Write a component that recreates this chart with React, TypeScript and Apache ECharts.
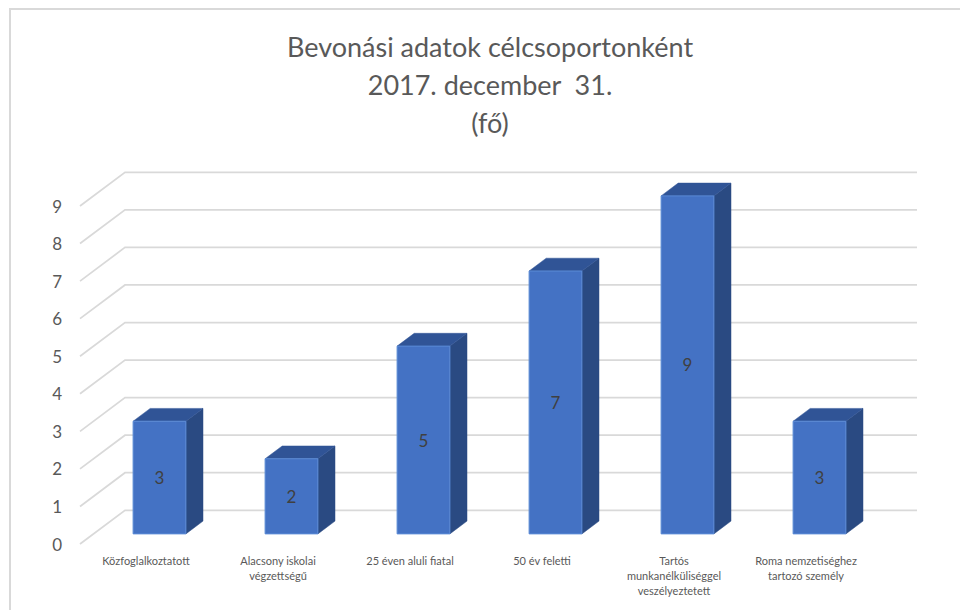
import React, { useEffect, useRef } from "react";
import * as echarts from "echarts";

const titleLines = ["Bevonási adatok célcsoportonként", "2017. december  31.", "(fő)"];
const categories = [
  "Közfoglalkoztatott",
  "Alacsony iskolai\nvégzettségű",
  "25 éven aluli fiatal",
  "50 év feletti",
  "Tartós\nmunkanélküliséggel\nveszélyeztetett",
  "Roma nemzetiséghez\ntartozó személy",
];
const values = [3, 2, 5, 7, 9, 3];
const yTicks = [0, 1, 2, 3, 4, 5, 6, 7, 8, 9];

const FONT = "Lato, 'Open Sans', sans-serif";
const DEPTH_X = 45;
const DEPTH_Y = -33.7;
const F1 = 0.3;
const F2 = 0.68;

export default function App() {
  const ref = useRef<HTMLDivElement>(null);
  useEffect(() => {
    if (!ref.current) return;
    const chart = echarts.init(ref.current, null, { renderer: "svg" });
    const nCat = categories.length;

    const option: any = {
      animation: false,
      backgroundColor: "#ffffff",
      title: {
        text: titleLines.join("\n"),
        left: 485,
        top: 22,
        textAlign: "center",
        textStyle: {
          fontFamily: FONT,
          fontSize: 27,
          lineHeight: 38,
          fontWeight: "normal",
          color: "#595959",
        },
      },
      graphic: [
        {
          type: "polyline",
          shape: { points: [[10, 610], [10, 9], [960, 9]] },
          style: { stroke: "#d9d9d9", lineWidth: 2, fill: null },
          silent: true,
        },
      ],
      grid: { left: 80, right: 88, top: 206, bottom: 66 },
      xAxis: {
        type: "category",
        data: categories,
        boundaryGap: true,
        axisLine: { show: false },
        axisTick: { show: false },
        splitLine: { show: false },
        axisLabel: {
          margin: 9,
          fontFamily: FONT,
          fontSize: 11,
          lineHeight: 15,
          color: "#595959",
          interval: 0,
        },
      },
      yAxis: {
        type: "value",
        min: 0,
        max: 9,
        interval: 1,
        axisLine: { show: false },
        axisTick: { show: false },
        splitLine: { show: false },
        axisLabel: {
          margin: 18,
          fontFamily: FONT,
          fontSize: 17,
          color: "#595959",
        },
      },
      series: [
        {
          type: "custom",
          name: "grid",
          z: 1,
          silent: true,
          data: yTicks.map((v) => [0, v]),
          encode: { x: 0, y: 1 },
          renderItem: (params: any, api: any) => {
            const v = api.value(1);
            const p = api.coord([0, v]);
            const bw = api.size([1, 0])[0];
            const left = p[0] - bw / 2;
            return {
              type: "polyline",
              shape: {
                points: [
                  [left, p[1]],
                  [left + DEPTH_X, p[1] + DEPTH_Y],
                  [left + DEPTH_X + nCat * bw, p[1] + DEPTH_Y],
                ],
              },
              style: { stroke: "#d9d9d9", lineWidth: 1.75, fill: null },
            };
          },
        },
        {
          type: "custom",
          name: "bars",
          z: 5,
          data: values.map((v, i) => [i, v]),
          encode: { x: 0, y: 1 },
          renderItem: (params: any, api: any) => {
            const i = api.value(0);
            const v = api.value(1);
            const base = api.coord([i, 0]);
            const top = api.coord([i, v]);
            const bw = api.size([1, 0])[0];
            const barW = bw * 0.4;
            const x0 = base[0] - barW / 2 + F1 * DEPTH_X;
            const yb = base[1] + F1 * DEPTH_Y;
            const yt = top[1] + F1 * DEPTH_Y;
            const ddx = (F2 - F1) * DEPTH_X;
            const ddy = (F2 - F1) * DEPTH_Y;
            return {
              type: "group",
              children: [
                {
                  type: "polygon",
                  shape: {
                    points: [
                      [x0 + barW, yt],
                      [x0 + barW, yb],
                      [x0 + barW + ddx, yb + ddy],
                      [x0 + barW + ddx, yt + ddy],
                    ],
                  },
                  style: { fill: "#2a4a82", stroke: "#2a4a82", lineWidth: 0.5 },
                },
                {
                  type: "polygon",
                  shape: {
                    points: [
                      [x0, yt],
                      [x0 + barW, yt],
                      [x0 + barW + ddx, yt + ddy],
                      [x0 + ddx, yt + ddy],
                    ],
                  },
                  style: { fill: "#305496", stroke: "#305496", lineWidth: 0.5 },
                },
                {
                  type: "rect",
                  shape: { x: x0, y: yt, width: barW, height: yb - yt },
                  style: { fill: "#4472c4", stroke: "#5b8bd6", lineWidth: 1 },
                },
                {
                  type: "text",
                  x: x0 + barW / 2,
                  y: (yt + yb) / 2,
                  style: {
                    text: String(v),
                    fontFamily: FONT,
                    fontSize: 17,
                    fill: "#404040",
                    align: "center",
                    verticalAlign: "middle",
                  },
                },
              ],
            };
          },
        },
      ],
    };
    chart.setOption(option);
    return () => chart.dispose();
  }, []);

  return (
    <div
      ref={ref}
      style={{ position: "fixed", left: 0, top: 0, width: 960, height: 610 }}
    />
  );
}
